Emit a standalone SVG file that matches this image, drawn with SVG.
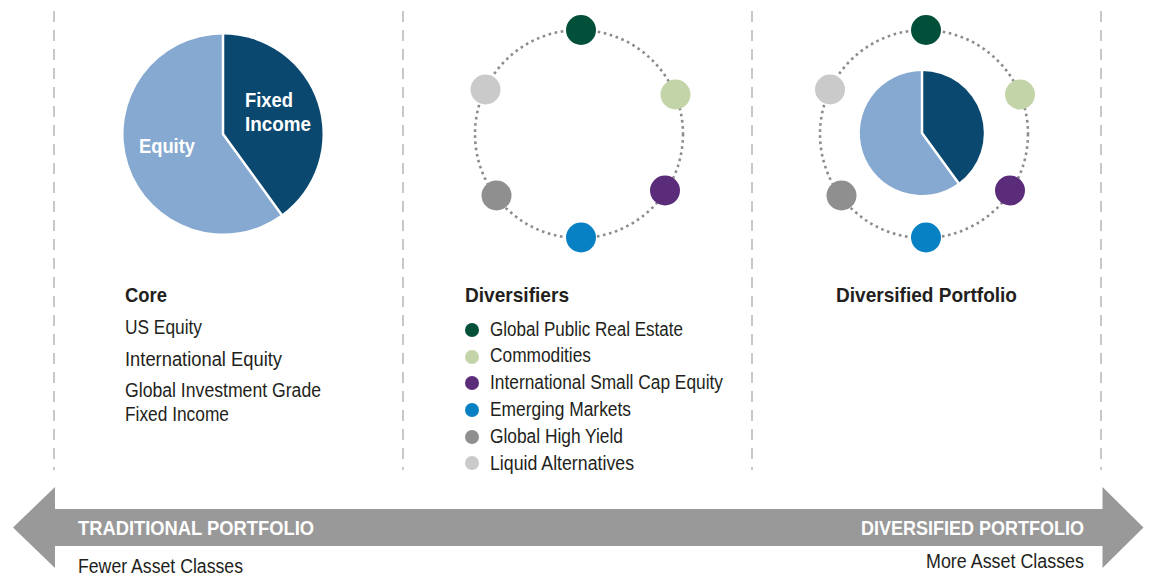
<svg xmlns="http://www.w3.org/2000/svg" width="1154" height="575" viewBox="0 0 1154 575">
<style>
text{font-family:"Liberation Sans Narrow","Liberation Sans",Arial,sans-serif;font-size:20px;fill:#231f20}
.b{font-weight:bold;font-size:20.5px}
.w{fill:#ffffff;font-weight:bold}
.sep{stroke:#c8c8c8;stroke-width:2;stroke-dasharray:11 8;fill:none}
.ring{stroke:#8c8c8c;stroke-width:2.6;stroke-dasharray:2.6 3.6;fill:none}
.fi{fill:#0b4870}
.eq{fill:#85a9d0}
.gap{stroke:#ffffff;stroke-width:2.5;fill:none}
.c1{fill:#03503a}.c2{fill:#c3d4a8}.c3{fill:#5b2c7a}.c4{fill:#0781c3}.c5{fill:#8f8f8f}.c6{fill:#cacaca}
</style>
<rect width="1154" height="575" fill="#ffffff"/>
<g id="separators">
<line class="sep" x1="54" y1="11" x2="54" y2="470"/>
<line class="sep" x1="403" y1="11" x2="403" y2="470"/>
<line class="sep" x1="752" y1="11" x2="752" y2="470"/>
<line class="sep" x1="1101" y1="11" x2="1101" y2="470"/>
</g>
<g id="core-pie">
<path class="eq" d="M223,134 L281.5,214.5 A99.5,99.5 0 1 1 223,34.5 Z"/>
<path class="fi" d="M223,134 L223,34.5 A99.5,99.5 0 0 1 281.5,214.5 Z"/>
<polyline class="gap" points="223,33 223,134 282.5,216"/>
<text class="w" x="245" y="107" textLength="48" lengthAdjust="spacingAndGlyphs">Fixed</text>
<text class="w" x="245" y="131" textLength="66" lengthAdjust="spacingAndGlyphs">Income</text>
<text class="w" x="139" y="153" textLength="56" lengthAdjust="spacingAndGlyphs">Equity</text>
</g>
<g id="core-text">
<text class="b" x="125" y="302" textLength="42" lengthAdjust="spacingAndGlyphs">Core</text>
<text x="125" y="334" textLength="77" lengthAdjust="spacingAndGlyphs">US Equity</text>
<text x="125" y="366" textLength="157" lengthAdjust="spacingAndGlyphs">International Equity</text>
<text x="125" y="397" textLength="196" lengthAdjust="spacingAndGlyphs">Global Investment Grade</text>
<text x="125" y="421" textLength="104" lengthAdjust="spacingAndGlyphs">Fixed Income</text>
</g>
<g id="diversifiers-ring">
<circle class="ring" cx="579" cy="134" r="104"/>
<circle class="c1" cx="581" cy="30" r="15"/>
<circle class="c2" cx="675.5" cy="94.5" r="15"/>
<circle class="c3" cx="665" cy="190.5" r="15"/>
<circle class="c4" cx="581" cy="237.5" r="15"/>
<circle class="c5" cx="496.5" cy="195.5" r="15"/>
<circle class="c6" cx="485.5" cy="89.5" r="15"/>
</g>
<g id="diversifiers-legend">
<text class="b" x="465" y="302" textLength="104" lengthAdjust="spacingAndGlyphs">Diversifiers</text>
<circle class="c1" cx="472" cy="330" r="7"/>
<text x="490" y="336" textLength="193" lengthAdjust="spacingAndGlyphs">Global Public Real Estate</text>
<circle class="c2" cx="472" cy="357" r="7"/>
<text x="490" y="362" textLength="101" lengthAdjust="spacingAndGlyphs">Commodities</text>
<circle class="c3" cx="472" cy="383" r="7"/>
<text x="490" y="389" textLength="233" lengthAdjust="spacingAndGlyphs">International Small Cap Equity</text>
<circle class="c4" cx="472" cy="410" r="7"/>
<text x="490" y="416" textLength="141" lengthAdjust="spacingAndGlyphs">Emerging Markets</text>
<circle class="c5" cx="472" cy="437" r="7"/>
<text x="490" y="443" textLength="133" lengthAdjust="spacingAndGlyphs">Global High Yield</text>
<circle class="c6" cx="472" cy="463" r="7"/>
<text x="490" y="470" textLength="144" lengthAdjust="spacingAndGlyphs">Liquid Alternatives</text>
</g>
<g id="diversified-portfolio">
<circle class="ring" cx="924" cy="134" r="104"/>
<path class="eq" d="M922,133 L958.5,183 A62,62 0 1 1 922,71 Z"/>
<path class="fi" d="M922,133 L922,71 A62,62 0 0 1 958.5,183 Z"/>
<polyline class="gap" points="922,70 922,133 959.5,184.5"/>
<circle class="c1" cx="926" cy="30" r="15"/>
<circle class="c2" cx="1020" cy="94.5" r="15"/>
<circle class="c3" cx="1010" cy="190.5" r="15"/>
<circle class="c4" cx="926" cy="237.5" r="15"/>
<circle class="c5" cx="841.5" cy="195.5" r="15"/>
<circle class="c6" cx="830" cy="89.5" r="15"/>
<text class="b" x="836" y="302" textLength="181" lengthAdjust="spacingAndGlyphs">Diversified Portfolio</text>
</g>
<g id="spectrum-arrow">
<polygon fill="#999999" points="13,527.5 55,487 55,509 1102.5,509 1102.5,487 1143.5,527.5 1102.5,568 1102.5,546 55,546 55,568"/>
<text class="w" x="78" y="535" textLength="236" lengthAdjust="spacingAndGlyphs">TRADITIONAL PORTFOLIO</text>
<text class="w" x="861" y="535" textLength="223" lengthAdjust="spacingAndGlyphs">DIVERSIFIED PORTFOLIO</text>
<text x="78" y="573" textLength="165" lengthAdjust="spacingAndGlyphs">Fewer Asset Classes</text>
<text x="926" y="568" textLength="158" lengthAdjust="spacingAndGlyphs">More Asset Classes</text>
</g>
</svg>
